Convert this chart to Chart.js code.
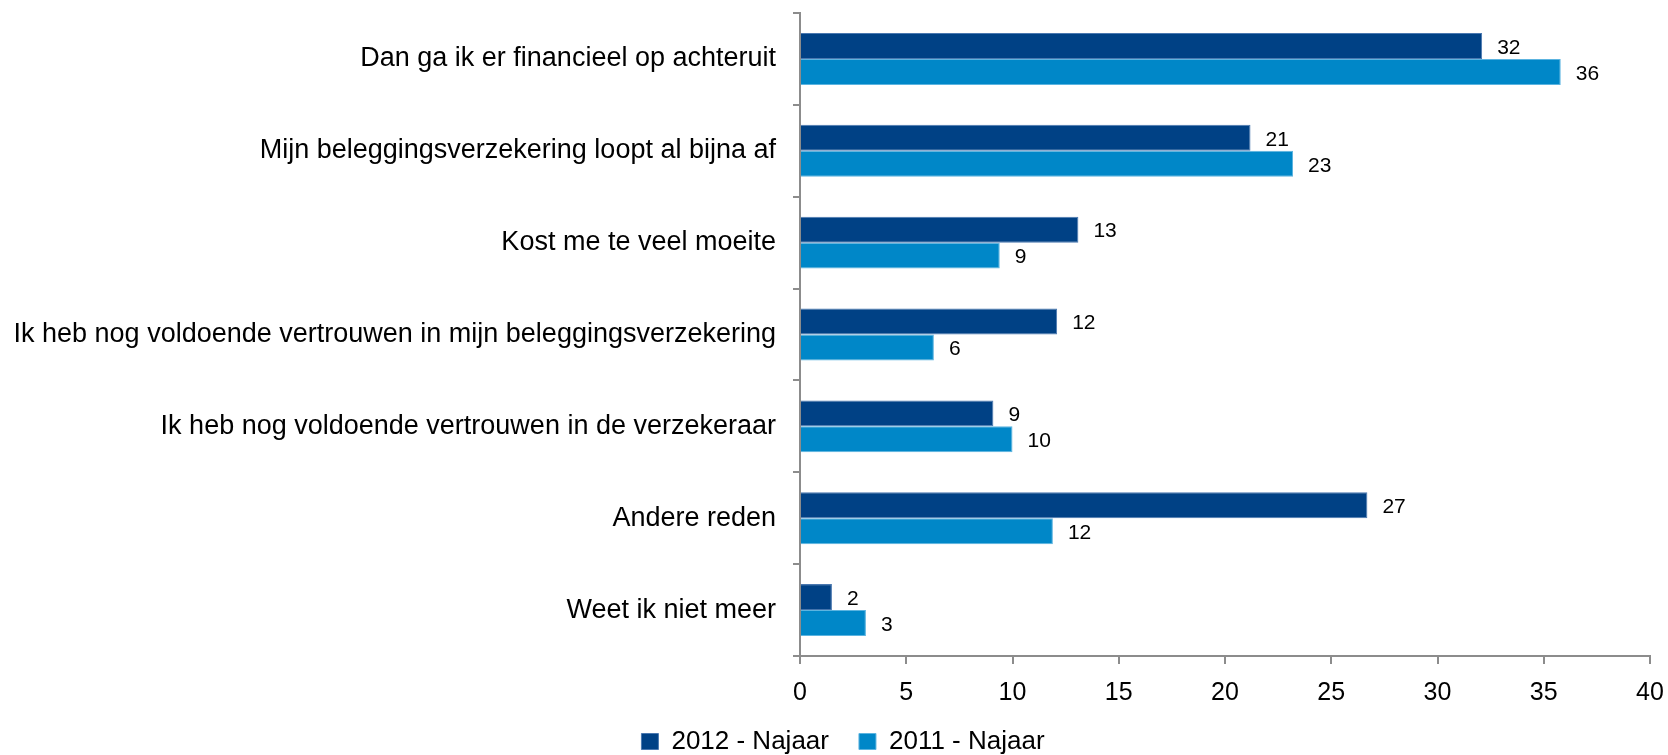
<!DOCTYPE html>
<html>
<head>
<meta charset="utf-8">
<script src="https://cdn.jsdelivr.net/npm/chart.js@4/dist/chart.umd.min.js"></script>
<style>
  html, body { margin: 0; padding: 0; background: #ffffff; }
  #wrap { width: 1668px; height: 755px; position: relative; }
</style>
</head>
<body>
<div id="wrap"><canvas id="c" width="1668" height="755"></canvas></div>
<script>
const categories = [
  "Dan ga ik er financieel op achteruit",
  "Mijn beleggingsverzekering loopt al bijna af",
  "Kost me te veel moeite",
  "Ik heb nog voldoende vertrouwen in mijn beleggingsverzekering",
  "Ik heb nog voldoende vertrouwen in de verzekeraar",
  "Andere reden",
  "Weet ik niet meer"
];
const series2012 = [32.1, 21.2, 13.1, 12.1, 9.1, 26.7, 1.5];
const series2011 = [35.8, 23.2, 9.4, 6.3, 10.0, 11.9, 3.1];
const labels2012 = [32, 21, 13, 12, 9, 27, 2];
const labels2011 = [36, 23, 9, 6, 10, 12, 3];
const xTicks = [0, 5, 10, 15, 20, 25, 30, 35, 40];

const FONT = "'Liberation Sans', Arial, sans-serif";
const AXIS = "#8c8c8c";
const LEGEND_FONT = 26;
const LEGEND_PAD = 30;

const valueLabels = {
  id: 'valueLabels',
  afterDatasetsDraw(chart) {
    const ctx = chart.ctx;
    ctx.save();
    ctx.font = "21px " + FONT;
    ctx.fillStyle = "#000";
    ctx.textBaseline = "middle";
    ctx.textAlign = "left";
    const lbls = [labels2012, labels2011];
    chart.data.datasets.forEach((ds, di) => {
      const meta = chart.getDatasetMeta(di);
      meta.data.forEach((el, i) => {
        ctx.fillText(String(lbls[di][i]), el.x + 15, el.y + 2);
      });
    });
    ctx.restore();
  }
};

const legendShift = {
  id: 'legendShift',
  afterLayout(chart) {
    const lg = chart.legend;
    if (!lg) return;
    const center = lg.top + LEGEND_PAD + LEGEND_FONT / 2;
    const d = 741.5 - center;
    lg.top += d;
    lg.bottom += d;
    lg.left += 18;
    lg.right += 18;
  }
};

new Chart(document.getElementById('c'), {
  type: 'bar',
  data: {
    labels: categories,
    datasets: [
      { label: "2012 - Najaar", data: series2012, backgroundColor: "#004185", borderColor: "#4a78b0", borderWidth: 1, borderSkipped: 'left' },
      { label: "2011 - Najaar", data: series2011, backgroundColor: "#0087C8", borderColor: "#5cb4e0", borderWidth: 1, borderSkipped: 'left' }
    ]
  },
  options: {
    indexAxis: 'y',
    responsive: false,
    animation: false,
    devicePixelRatio: 1,
    layout: { padding: { top: 13, right: 18, left: 0, bottom: -17 } },
    datasets: { bar: { categoryPercentage: 0.565, barPercentage: 1.0 } },
    scales: {
      x: {
        min: 0, max: 40,
        afterBuildTicks(scale) { scale.ticks = xTicks.map(v => ({ value: v })); },
        afterFit(scale) { scale.height = 50; scale.paddingLeft = 0; scale.paddingRight = 0; },
        grid: { drawOnChartArea: false, color: AXIS, tickLength: 8, lineWidth: 2 },
        border: { color: AXIS, width: 2 },
        ticks: { color: "#000", font: { family: FONT, size: 25 }, padding: 14, autoSkip: false, maxRotation: 0 }
      },
      y: {
        afterFit(scale) { scale.width = 800; scale.paddingTop = 0; scale.paddingBottom = 0; },
        grid: { drawOnChartArea: false, color: AXIS, tickLength: 7, lineWidth: 2, offset: true },
        border: { color: AXIS, width: 2 },
        ticks: { color: "#000", font: { family: FONT, size: 27 }, padding: 17, autoSkip: false }
      }
    },
    plugins: {
      legend: {
        position: 'bottom',
        labels: { color: "#000", font: { family: FONT, size: LEGEND_FONT }, boxWidth: 17, boxHeight: 16, padding: LEGEND_PAD, useBorderRadius: false }
      },
      tooltip: { enabled: false }
    }
  },
  plugins: [valueLabels, legendShift]
});
</script>
</body>
</html>
